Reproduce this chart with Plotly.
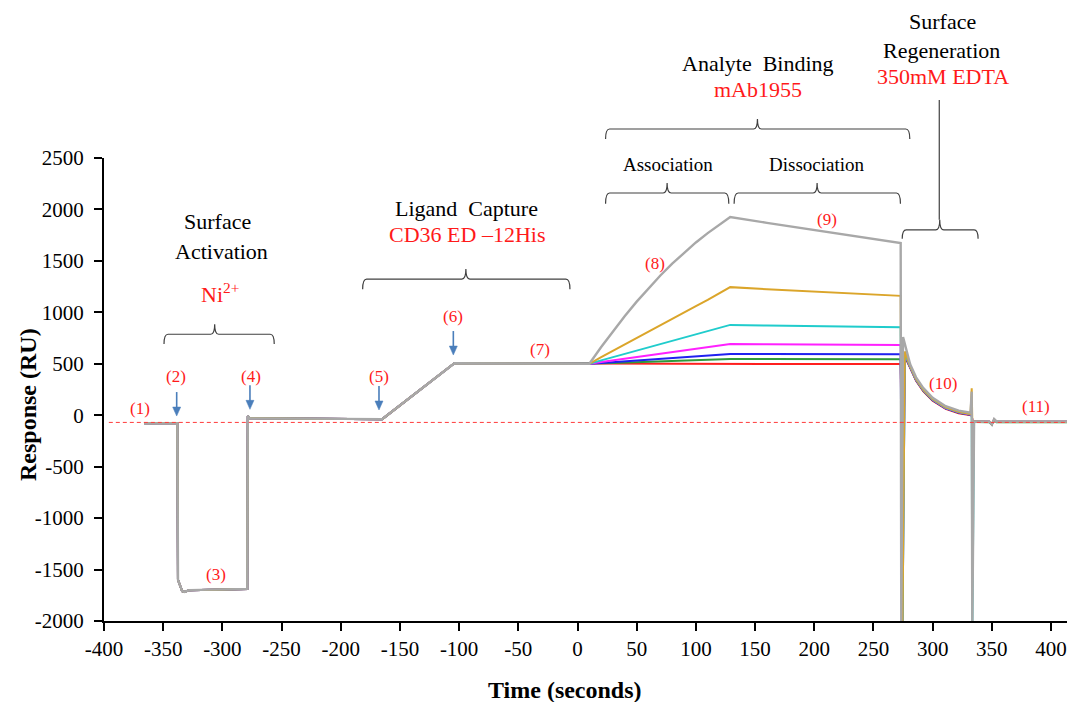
import plotly.graph_objects as go

# ---------------- data (Response, RU vs Time, s) ----------------
SERIES = ["red", "green", "blue", "magenta", "cyan", "gold", "gray"]
COLORS = {
    "red": "#ff1f1f", "green": "#2f9a3a", "blue": "#2020f0", "magenta": "#ff20ff",
    "cyan": "#20cccc", "gold": "#dba52a", "gray": "#a8a8a8",
}

# shared part: baseline, Ni2+ activation, ligand capture, stable ligand
TIME_PRE = [-366, -338, -337.5, -334, -332, -328, -279, -278.5, -277, -165, -104, 10]
RESP_PRE = [-79, -79, -1600, -1710, -1718, -1700, -1688, -8, -30, -38, 505, 500]

# analyte association / dissociation
TIME_ASSOC = [20, 30, 40, 50, 60, 70, 80, 90, 100, 110, 120, 129]
ASSOC_RU = {
    "red":     [500, 500, 500, 500, 500, 500, 500, 500, 500, 500, 499, 499],
    "green":   [504, 508, 512, 516, 520, 524, 528, 532, 536, 540, 544, 547],
    "blue":    [508, 516, 525, 533, 541, 549, 557, 565, 573, 581, 589, 596],
    "magenta": [517, 533, 550, 566, 582, 598, 614, 630, 646, 662, 678, 693],
    "cyan":    [533, 565, 598, 630, 662, 694, 726, 757, 788, 819, 850, 878],
    "gold":    [565, 628, 691, 754, 816, 878, 939, 1000, 1061, 1122, 1185, 1245],
    "gray":    [663, 818, 965, 1104, 1235, 1358, 1473, 1580, 1679, 1770, 1853, 1926],
}
TIME_DISSOC = [160, 200, 240, 273]
DISSOC_RU = {
    "red":     [499, 498, 498, 498],
    "green":   [546, 545, 544, 544],
    "blue":    [595, 594, 593, 593],
    "magenta": [690, 688, 685, 683],
    "cyan":    [872, 866, 860, 855],
    "gold":    [1225, 1200, 1178, 1160],
    "gray":    [1870, 1800, 1735, 1673],
}

# EDTA regeneration: injection dip, spike, decay
DROP_TIME = {"red": 274.5, "green": 274.5, "blue": 274.5, "magenta": 274.5,
             "cyan": 274.5, "gold": 274.5, "gray": 273.5}
DROP_RU = {"red": -850, "green": -600, "blue": -2100, "magenta": -1400,
           "cyan": -2100, "gold": -2100, "gray": -2100}
PEAK_TIME = {"red": 276.5, "green": 276.5, "blue": 276.5, "magenta": 276.5,
             "cyan": 276.5, "gold": 276.5, "gray": 275}
PEAK_RU = {"red": 570, "green": 580, "blue": 590, "magenta": 595,
           "cyan": 600, "gold": 620, "gray": 760}
TIME_DECAY = [281, 286, 292, 300, 311, 322, 332]
DECAY_RU = {
    "red":     [460, 335, 235, 140, 62, 20, 0],
    "green":   [465, 340, 240, 145, 66, 24, 4],
    "blue":    [468, 343, 243, 148, 68, 26, 6],
    "magenta": [470, 345, 245, 150, 70, 28, 8],
    "cyan":    [472, 347, 247, 152, 72, 30, 10],
    "gold":    [478, 352, 252, 157, 76, 33, 12],
    "gray":    [495, 368, 266, 170, 88, 44, 24],
}
# end of regeneration injection and final baseline
TIME_END = [333, 333.5, 335, 348, 350, 352, 354, 413.5]
END_RU = {
    "red":     [10, -55, -62, -64, -90, -40, -62, -64],
    "green":   [10, -55, -66, -68, -92, -42, -68, -68],
    "blue":    [10, -55, -62, -63, -90, -40, -62, -63],
    "magenta": [10, -55, -62, -63, -90, -40, -62, -63],
    "cyan":    [50, -2100, -62, -63, -90, -40, -62, -63],
    "gold":    [262, -55, -62, -63, -90, -40, -62, -63],
    "gray":    [229, -2100, -60, -62, -88, -38, -60, -62],
}

X_TICKS = list(range(-400, 401, 50))
Y_TICKS = list(range(-2000, 2501, 500))

XMIN, XMAX = -400, 413.5
YMIN, YMAX = -2000, 2500
FONT = "Liberation Serif, Times New Roman, serif"
PLOT_W, PLOT_H = 963.0, 463.0


def ypaper(v):
    return (v - YMIN) / (YMAX - YMIN)


def xpaper(t):
    return (t - XMIN) / (XMAX - XMIN)


fig = go.Figure()

for s in SERIES:
    t = (TIME_PRE + [10] + TIME_ASSOC + TIME_DISSOC
         + [DROP_TIME[s], PEAK_TIME[s]] + TIME_DECAY + TIME_END)
    v = (RESP_PRE + [500] + ASSOC_RU[s] + DISSOC_RU[s]
         + [DROP_RU[s], PEAK_RU[s]] + DECAY_RU[s] + END_RU[s])
    fig.add_trace(go.Scatter(
        x=t, y=v, mode="lines", name=s, showlegend=False,
        line=dict(color=COLORS[s], width=2.4 if s == "gray" else 2),
        hoverinfo="skip",
    ))

shapes = []
# reference baseline
shapes.append(dict(type="line", xref="paper", yref="y", x0=0.005, x1=1, y0=-70, y1=-70,
                   line=dict(color="#ff3b3b", width=1, dash="4px,3px")))


def brace(t0, t1, tm, v_end, v_line, v_tip, r=4.0):
    """Curly brace opening downward, drawn in paper coordinates."""
    x0, x1, xm = xpaper(t0), xpaper(t1), xpaper(tm)
    ye, yl, yt = ypaper(v_end), ypaper(v_line), ypaper(v_tip)
    rx = r / PLOT_W
    path = (f"M {x0},{ye} Q {x0},{yl} {x0 + rx},{yl} L {xm - rx},{yl} "
            f"Q {xm},{yl} {xm},{yt} Q {xm},{yl} {xm + rx},{yl} "
            f"L {x1 - rx},{yl} Q {x1},{yl} {x1},{ye}")
    return dict(type="path", xref="paper", yref="paper", path=path,
                line=dict(color="#404040", width=1.2))


shapes.append(brace(-349.3, -256.2, -306.5, 692, 787, 885))      # surface activation
shapes.append(brace(-181.5, -6.4, -94.3, 1225, 1323, 1420))      # ligand capture
shapes.append(brace(23.7, 280.7, 152.0, 2685, 2782, 2880))       # analyte binding
shapes.append(brace(23.7, 127.8, 75.7, 2056, 2160, 2257))        # association
shapes.append(brace(132.3, 272.8, 202.4, 2056, 2160, 2257))      # dissociation
shapes.append(brace(274.3, 338.4, 306.0, 1715, 1802, 1900))      # regeneration
shapes.append(dict(type="line", xref="paper", yref="paper",
                   x0=xpaper(305.6), x1=xpaper(305.6), y0=ypaper(1900), y1=ypaper(3063),
                   line=dict(color="#404040", width=1.2)))

# injection arrows (shaft + head)
ARROW_T = [-338.6, -276.7, -167.7, -104.9]
ARROW_V = [-8, 57, 51, 585]
ARROW_BLUE = "#4a7ebb"
for t, v in zip(ARROW_T, ARROW_V):
    x, y = xpaper(t), ypaper(v)
    head_h, head_w, length = 9 / PLOT_H, 4 / PLOT_W, 24 / PLOT_H
    shapes.append(dict(type="line", xref="paper", yref="paper", x0=x, x1=x,
                       y0=y + head_h * 0.8, y1=y + length,
                       line=dict(color=ARROW_BLUE, width=1.6)))
    shapes.append(dict(type="path", xref="paper", yref="paper",
                       path=f"M {x},{y} L {x - head_w},{y + head_h} L {x + head_w},{y + head_h} Z",
                       fillcolor=ARROW_BLUE, line=dict(color=ARROW_BLUE, width=0.5)))

annotations = []


def text(t, v, s, color="black", size=22):
    annotations.append(dict(xref="x", yref="paper", x=t, y=ypaper(v), text=s,
                            showarrow=False, xanchor="center", yanchor="middle",
                            font=dict(family=FONT, size=size, color=color)))


RED = "#ff1a1a"
text(-304.5, 1881, "Surface")
text(-300.5, 1596, "Activation")
text(-302, 1185, "Ni<sup>2+</sup>", RED)
text(-93.6, 2011, "Ligand\u00a0 Capture")
text(-93.6, 1752, "CD36 ED \u201312His", RED)
text(152.7, 3420, "Analyte\u00a0 Binding")
text(152.7, 3161, "mAb1955", RED)
text(76.7, 2432, "Association", size=19)
text(202.0, 2432, "Dissociation", size=19)
text(308.0, 3825, "Surface")
text(307.5, 3549, "Regeneration")
text(309.0, 3290, "350mM EDTA", RED)

# step numbers
STEP_LABELS = ["(1)", "(2)", "(3)", "(4)", "(5)", "(6)", "(7)", "(8)", "(9)", "(10)", "(11)"]
STEP_T = [-369.6, -339.2, -305.4, -276.1, -167.7, -104.9, -31.7, 65.5, 211.0, 309.0, 387.0]
STEP_V = [67, 381, -1544, 381, 374, 957, 634, 1470, 1904, 310, 83]
for lab, t, v in zip(STEP_LABELS, STEP_T, STEP_V):
    text(t, v, lab, RED, size=17)

# axis titles
annotations.append(dict(xref="paper", yref="paper", x=(28 - 104) / PLOT_W, y=(621 - 405) / PLOT_H,
                        text="<b>Response (RU)</b>", textangle=-90, showarrow=False,
                        xanchor="center", yanchor="middle",
                        font=dict(family=FONT, size=24, color="black")))
annotations.append(dict(xref="paper", yref="paper", x=(565 - 104) / PLOT_W, y=(621 - 690) / PLOT_H,
                        text="<b>Time (seconds)</b>", showarrow=False,
                        xanchor="center", yanchor="middle",
                        font=dict(family=FONT, size=24, color="black")))

fig.update_layout(
    width=1067, height=702,
    margin=dict(l=104, r=0, t=158, b=81),
    paper_bgcolor="white", plot_bgcolor="white",
    font=dict(family=FONT, size=21, color="black"),
    shapes=shapes, annotations=annotations,
    xaxis=dict(range=[XMIN, XMAX], tickvals=X_TICKS, ticktext=[str(v) for v in X_TICKS],
               showgrid=False, zeroline=False, showline=True, linecolor="black",
               linewidth=2, ticks="outside", ticklen=8, tickwidth=2, tickcolor="black",
               tickfont=dict(family=FONT, size=21)),
    yaxis=dict(range=[YMIN, YMAX], tickvals=Y_TICKS, ticktext=[str(v) for v in Y_TICKS],
               showgrid=False, zeroline=False, showline=True, linecolor="black",
               linewidth=2, ticks="outside", ticklen=8, tickwidth=2, tickcolor="black",
               tickfont=dict(family=FONT, size=21), ticklabelstandoff=6),
)

fig.write_html("out.html")
